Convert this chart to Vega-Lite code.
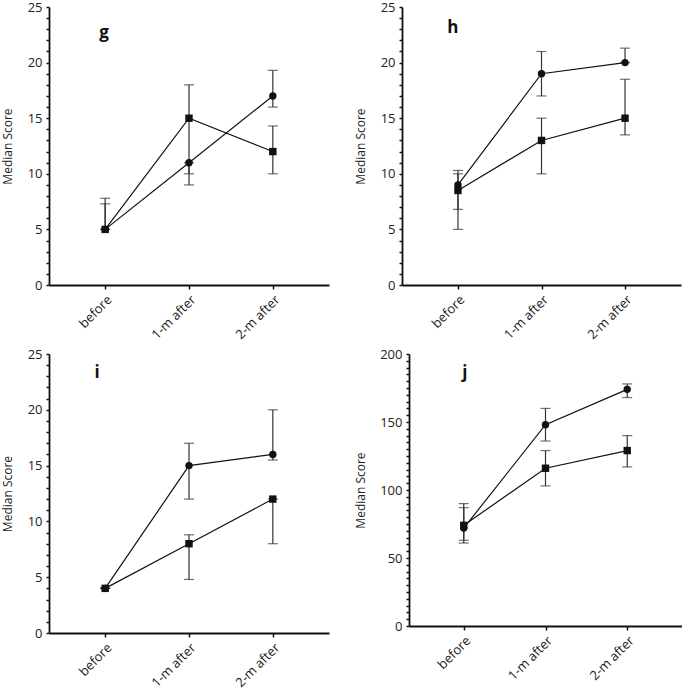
{
  "$schema": "https://vega.github.io/schema/vega-lite/v6.json",
  "padding": {"left": 1, "top": 1, "right": 0, "bottom": 0},
  "background": "white",
  "spacing": 6,
  "config": {
    "font": "Open Sans",
    "view": {"stroke": null},
    "axis": {"grid": false, "ticks": true, "domainColor": "#111", "domainWidth": 1.8, "tickColor": "#111", "tickWidth": 1.5, "labelColor": "#222", "labelFont": "Open Sans", "titleFont": "Open Sans", "titleFontWeight": "normal", "titleColor": "#222", "labelOverlap": false, "labelFlush": false}
  },
  "data": {"values": [
    {"panel": "g", "kind": "d", "series": "circle", "time": "before", "value": 5, "lo": 5, "hi": 7.3},
    {"panel": "g", "kind": "d", "series": "square", "time": "before", "value": 5, "lo": 5, "hi": 7.8},
    {"panel": "g", "kind": "d", "series": "circle", "time": "1-m after", "value": 11, "lo": 9, "hi": 11},
    {"panel": "g", "kind": "d", "series": "square", "time": "1-m after", "value": 15, "lo": 10, "hi": 18},
    {"panel": "g", "kind": "d", "series": "circle", "time": "2-m after", "value": 17, "lo": 16, "hi": 19.3},
    {"panel": "g", "kind": "d", "series": "square", "time": "2-m after", "value": 12, "lo": 10, "hi": 14.3},
    {"panel": "g", "kind": "t", "time": "before", "value": 22.7, "text": "g"},
    {"panel": "h", "kind": "d", "series": "circle", "time": "before", "value": 9, "lo": 6.8, "hi": 10.3},
    {"panel": "h", "kind": "d", "series": "square", "time": "before", "value": 8.5, "lo": 5, "hi": 10},
    {"panel": "h", "kind": "d", "series": "circle", "time": "1-m after", "value": 19, "lo": 17, "hi": 21},
    {"panel": "h", "kind": "d", "series": "square", "time": "1-m after", "value": 13, "lo": 10, "hi": 15},
    {"panel": "h", "kind": "d", "series": "circle", "time": "2-m after", "value": 20, "lo": 20, "hi": 21.3},
    {"panel": "h", "kind": "d", "series": "square", "time": "2-m after", "value": 15, "lo": 13.5, "hi": 18.5},
    {"panel": "h", "kind": "t", "time": "before", "value": 23.1, "text": "h"},
    {"panel": "i", "kind": "d", "series": "circle", "time": "before", "value": 4, "lo": 4, "hi": 4},
    {"panel": "i", "kind": "d", "series": "square", "time": "before", "value": 4, "lo": 4, "hi": 4},
    {"panel": "i", "kind": "d", "series": "circle", "time": "1-m after", "value": 15, "lo": 12, "hi": 17},
    {"panel": "i", "kind": "d", "series": "square", "time": "1-m after", "value": 8, "lo": 4.8, "hi": 8.8},
    {"panel": "i", "kind": "d", "series": "circle", "time": "2-m after", "value": 16, "lo": 15.5, "hi": 20},
    {"panel": "i", "kind": "d", "series": "square", "time": "2-m after", "value": 12, "lo": 8, "hi": 12},
    {"panel": "i", "kind": "t", "time": "before", "value": 23.3, "text": "i"},
    {"panel": "j", "kind": "d", "series": "circle", "time": "before", "value": 72, "lo": 61, "hi": 87},
    {"panel": "j", "kind": "d", "series": "square", "time": "before", "value": 74, "lo": 63, "hi": 90},
    {"panel": "j", "kind": "d", "series": "circle", "time": "1-m after", "value": 148, "lo": 136, "hi": 160},
    {"panel": "j", "kind": "d", "series": "square", "time": "1-m after", "value": 116, "lo": 103, "hi": 129},
    {"panel": "j", "kind": "d", "series": "circle", "time": "2-m after", "value": 174, "lo": 168, "hi": 178},
    {"panel": "j", "kind": "d", "series": "square", "time": "2-m after", "value": 129, "lo": 117, "hi": 140},
    {"panel": "j", "kind": "t", "time": "before", "value": 186, "text": "j"}
  ]},
  "vconcat": [
    {"spacing": 25, "hconcat": [
      {"width": 280, "height": 278,
       "transform": [{"filter": "datum.panel === 'g'"}],
       "encoding": {
         "x": {"field": "time", "type": "ordinal", "scale": {"type": "point", "domain": ["before", "1-m after", "2-m after"], "padding": 0.67},
               "axis": {"title": null, "labelAngle": -45, "labelFontSize": 13, "tickSize": 4, "labelPadding": 4}},
         "y": {"field": "value", "type": "quantitative", "scale": {"domain": [0, 25], "nice": false},
            "axis": {"title": "Median Score", "titleFontSize": 12, "titlePadding": 5, "labelFontSize": 13, "tickSize": 3, "labelPadding": 4, "minExtent": 30, "maxExtent": 30, "labelOverlap": false,
              "tickCount": 25, "labelExpr": "datum.value % 5 === 0 ? datum.label : ''"}}
       },
       "layer": [
         {"transform": [{"filter": "datum.kind === 'd'"}], "mark": {"type": "rule", "color": "#333", "strokeWidth": 1.2},
          "encoding": {"y": {"field": "lo", "type": "quantitative"}, "y2": {"field": "hi"}}},
         {"transform": [{"filter": "datum.kind === 'd'"}], "mark": {"type": "tick", "color": "#333", "size": 10, "thickness": 1.2}, "encoding": {"y": {"field": "lo", "type": "quantitative"}}},
         {"transform": [{"filter": "datum.kind === 'd'"}], "mark": {"type": "tick", "color": "#333", "size": 10, "thickness": 1.2}, "encoding": {"y": {"field": "hi", "type": "quantitative"}}},
         {"transform": [{"filter": "datum.kind === 'd'"}], "mark": {"type": "line", "color": "#111", "strokeWidth": 1.2}, "encoding": {"detail": {"field": "series"}}},
         {"transform": [{"filter": "datum.kind === 'd'"}], "mark": {"type": "point", "filled": true, "color": "#111", "opacity": 1, "size": 55},
          "encoding": {"shape": {"field": "series", "type": "nominal", "scale": {"domain": ["circle", "square"], "range": ["circle", "square"]}, "legend": null}}},
         {"transform": [{"filter": "datum.kind === 't'"}], "mark": {"type": "text", "fontSize": 17, "fontWeight": "bold", "color": "#111", "dx": -1},
          "encoding": {"text": {"field": "text"}}}
       ]},
      {"width": 279, "height": 278,
       "transform": [{"filter": "datum.panel === 'h'"}],
       "encoding": {
         "x": {"field": "time", "type": "ordinal", "scale": {"type": "point", "domain": ["before", "1-m after", "2-m after"], "padding": 0.67},
               "axis": {"title": null, "labelAngle": -45, "labelFontSize": 13, "tickSize": 4, "labelPadding": 4}},
         "y": {"field": "value", "type": "quantitative", "scale": {"domain": [0, 25], "nice": false},
            "axis": {"title": "Median Score", "titleFontSize": 12, "titlePadding": 5, "labelFontSize": 13, "tickSize": 3, "labelPadding": 4, "minExtent": 30, "maxExtent": 30, "labelOverlap": false,
              "tickCount": 25, "labelExpr": "datum.value % 5 === 0 ? datum.label : ''"}}
       },
       "layer": [
         {"transform": [{"filter": "datum.kind === 'd'"}], "mark": {"type": "rule", "color": "#333", "strokeWidth": 1.2},
          "encoding": {"y": {"field": "lo", "type": "quantitative"}, "y2": {"field": "hi"}}},
         {"transform": [{"filter": "datum.kind === 'd'"}], "mark": {"type": "tick", "color": "#333", "size": 10, "thickness": 1.2}, "encoding": {"y": {"field": "lo", "type": "quantitative"}}},
         {"transform": [{"filter": "datum.kind === 'd'"}], "mark": {"type": "tick", "color": "#333", "size": 10, "thickness": 1.2}, "encoding": {"y": {"field": "hi", "type": "quantitative"}}},
         {"transform": [{"filter": "datum.kind === 'd'"}], "mark": {"type": "line", "color": "#111", "strokeWidth": 1.2}, "encoding": {"detail": {"field": "series"}}},
         {"transform": [{"filter": "datum.kind === 'd'"}], "mark": {"type": "point", "filled": true, "color": "#111", "opacity": 1, "size": 55},
          "encoding": {"shape": {"field": "series", "type": "nominal", "scale": {"domain": ["circle", "square"], "range": ["circle", "square"]}, "legend": null}}},
         {"transform": [{"filter": "datum.kind === 't'"}], "mark": {"type": "text", "fontSize": 17, "fontWeight": "bold", "color": "#111", "dx": -5},
          "encoding": {"text": {"field": "text"}}}
       ]}
    ]},
    {"spacing": 25, "hconcat": [
      {"width": 280, "height": 279,
       "transform": [{"filter": "datum.panel === 'i'"}],
       "encoding": {
         "x": {"field": "time", "type": "ordinal", "scale": {"type": "point", "domain": ["before", "1-m after", "2-m after"], "padding": 0.67},
               "axis": {"title": null, "labelAngle": -45, "labelFontSize": 13, "tickSize": 4, "labelPadding": 4}},
         "y": {"field": "value", "type": "quantitative", "scale": {"domain": [0, 25], "nice": false},
            "axis": {"title": "Median Score", "titleFontSize": 12, "titlePadding": 5, "labelFontSize": 13, "tickSize": 3, "labelPadding": 4, "minExtent": 30, "maxExtent": 30, "labelOverlap": false,
              "tickCount": 25, "labelExpr": "datum.value % 5 === 0 ? datum.label : ''"}}
       },
       "layer": [
         {"transform": [{"filter": "datum.kind === 'd'"}], "mark": {"type": "rule", "color": "#333", "strokeWidth": 1.2},
          "encoding": {"y": {"field": "lo", "type": "quantitative"}, "y2": {"field": "hi"}}},
         {"transform": [{"filter": "datum.kind === 'd'"}], "mark": {"type": "tick", "color": "#333", "size": 10, "thickness": 1.2}, "encoding": {"y": {"field": "lo", "type": "quantitative"}}},
         {"transform": [{"filter": "datum.kind === 'd'"}], "mark": {"type": "tick", "color": "#333", "size": 10, "thickness": 1.2}, "encoding": {"y": {"field": "hi", "type": "quantitative"}}},
         {"transform": [{"filter": "datum.kind === 'd'"}], "mark": {"type": "line", "color": "#111", "strokeWidth": 1.2}, "encoding": {"detail": {"field": "series"}}},
         {"transform": [{"filter": "datum.kind === 'd'"}], "mark": {"type": "point", "filled": true, "color": "#111", "opacity": 1, "size": 55},
          "encoding": {"shape": {"field": "series", "type": "nominal", "scale": {"domain": ["circle", "square"], "range": ["circle", "square"]}, "legend": null}}},
         {"transform": [{"filter": "datum.kind === 't'"}], "mark": {"type": "text", "fontSize": 17, "fontWeight": "bold", "color": "#111", "dx": -8},
          "encoding": {"text": {"field": "text"}}}
       ]},
      {"width": 273, "height": 272,
       "transform": [{"filter": "datum.panel === 'j'"}],
       "encoding": {
         "x": {"field": "time", "type": "ordinal", "scale": {"type": "point", "domain": ["before", "1-m after", "2-m after"], "padding": 0.67},
               "axis": {"title": null, "labelAngle": -45, "labelFontSize": 13, "tickSize": 4, "labelPadding": 4}},
         "y": {"field": "value", "type": "quantitative", "scale": {"domain": [0, 200], "nice": false},
            "axis": {"title": "Median Score", "titleFontSize": 12, "titlePadding": 5, "labelFontSize": 13, "tickSize": 3, "labelPadding": 4, "minExtent": 37, "maxExtent": 37, "labelOverlap": false,
              "tickCount": 40, "labelExpr": "datum.value % 50 === 0 ? datum.label : ''"}}
       },
       "layer": [
         {"transform": [{"filter": "datum.kind === 'd'"}], "mark": {"type": "rule", "color": "#333", "strokeWidth": 1.2},
          "encoding": {"y": {"field": "lo", "type": "quantitative"}, "y2": {"field": "hi"}}},
         {"transform": [{"filter": "datum.kind === 'd'"}], "mark": {"type": "tick", "color": "#333", "size": 10, "thickness": 1.2}, "encoding": {"y": {"field": "lo", "type": "quantitative"}}},
         {"transform": [{"filter": "datum.kind === 'd'"}], "mark": {"type": "tick", "color": "#333", "size": 10, "thickness": 1.2}, "encoding": {"y": {"field": "hi", "type": "quantitative"}}},
         {"transform": [{"filter": "datum.kind === 'd'"}], "mark": {"type": "line", "color": "#111", "strokeWidth": 1.2}, "encoding": {"detail": {"field": "series"}}},
         {"transform": [{"filter": "datum.kind === 'd'"}], "mark": {"type": "point", "filled": true, "color": "#111", "opacity": 1, "size": 55},
          "encoding": {"shape": {"field": "series", "type": "nominal", "scale": {"domain": ["circle", "square"], "range": ["circle", "square"]}, "legend": null}}},
         {"transform": [{"filter": "datum.kind === 't'"}], "mark": {"type": "text", "fontSize": 17, "fontWeight": "bold", "color": "#111", "dx": 1},
          "encoding": {"text": {"field": "text"}}}
       ]}
    ]}
  ]
}
